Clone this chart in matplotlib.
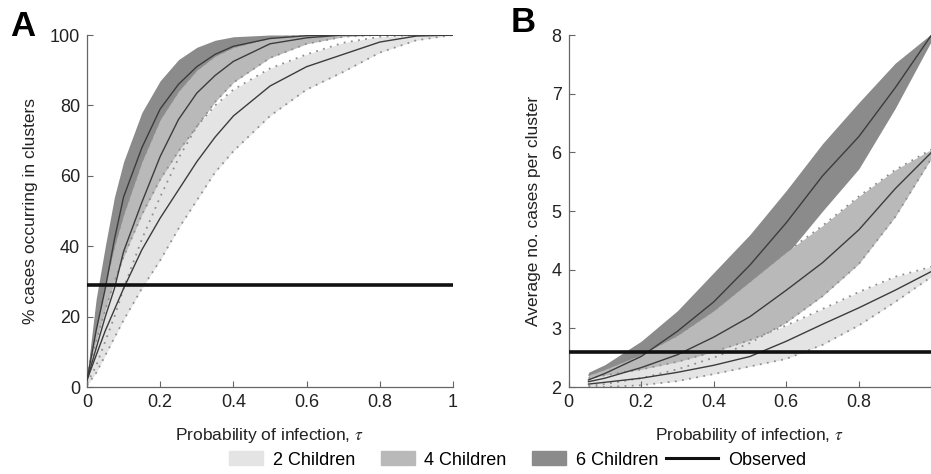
import matplotlib
matplotlib.use("Agg")
import matplotlib.pyplot as plt
from matplotlib.patches import Patch, Rectangle
from matplotlib.lines import Line2D
from matplotlib.legend_handler import HandlerPatch

plt.rcParams['font.family'] = ['Liberation Sans', 'DejaVu Sans']
plt.rcParams['mathtext.fontset'] = 'stix'

# ---- panel A: % cases occurring in clusters ----
tau_a = [0, 0.025, 0.05, 0.075, 0.1, 0.15, 0.2, 0.25, 0.3, 0.35, 0.4, 0.5, 0.6, 0.7, 0.8, 0.9, 1.0]

a2_mean = [2, 9, 16, 22, 28, 39, 48, 56, 64, 71, 77, 85.5, 91, 94.5, 98, 99.7, 100]
a2_up   = [3, 13, 22, 30, 37, 49, 59, 67, 74, 80, 84.5, 90.5, 94.5, 97.8, 99.5, 100, 100]
a2_lo   = [0.5, 4, 9, 14, 19, 28, 36, 45, 53, 61, 67, 77, 84.5, 89.5, 95, 98.5, 100]

a4_mean = [2, 11, 20, 28, 38.5, 52.5, 65.5, 76, 83.5, 88.5, 92.5, 97.5, 99.2, 100, 100, 100, 100]
a4_up   = [3, 17, 29, 40, 49, 64, 76, 84, 90, 94, 96.5, 99.2, 100, 100, 100, 100, 100]
a4_lo   = [1, 6, 13, 20, 28, 42, 54, 65, 74, 81, 86.5, 93.5, 97.5, 99.5, 100, 100, 100]

a6_mean = [2, 16, 28, 42, 54, 68, 79, 86, 91, 94.5, 96.8, 99, 99.8, 100, 100, 100, 100]
a6_up   = [3, 25, 40, 54, 64, 78, 87, 93, 96.5, 98.5, 99.5, 100, 100, 100, 100, 100, 100]
a6_lo   = [1, 9, 19, 30, 41, 57, 69, 78, 85, 90, 93.5, 97.5, 99.3, 100, 100, 100, 100]

observed_a = 29

# ---- panel B: average no. cases per cluster ----
tau_b = [0.055, 0.1, 0.2, 0.3, 0.4, 0.5, 0.6, 0.7, 0.8, 0.9, 1.0]

b2_mean = [2.05, 2.08, 2.15, 2.25, 2.37, 2.52, 2.78, 3.07, 3.35, 3.65, 3.97]
b2_up   = [2.15, 2.2, 2.3, 2.43, 2.6, 2.8, 3.05, 3.33, 3.62, 3.88, 4.05]
b2_lo   = [2.0, 2.0, 2.03, 2.1, 2.22, 2.35, 2.48, 2.72, 3.05, 3.45, 3.88]

b4_mean = [2.09, 2.15, 2.33, 2.55, 2.85, 3.2, 3.65, 4.12, 4.68, 5.38, 6.0]
b4_up   = [2.2, 2.3, 2.55, 2.88, 3.3, 3.8, 4.3, 4.75, 5.25, 5.7, 6.05]
b4_lo   = [2.02, 2.05, 2.15, 2.3, 2.5, 2.75, 3.1, 3.55, 4.1, 4.9, 5.9]

b6_mean = [2.12, 2.23, 2.52, 2.95, 3.45, 4.08, 4.8, 5.6, 6.27, 7.1, 8.0]
b6_up   = [2.25, 2.38, 2.78, 3.3, 3.95, 4.6, 5.35, 6.15, 6.85, 7.52, 8.02]
b6_lo   = [2.0, 2.08, 2.3, 2.62, 3.0, 3.58, 4.25, 5.0, 5.72, 6.75, 7.9]

observed_b = 2.6

labels = ['2 Children', '4 Children', '6 Children', 'Observed']
c_light, c_mid, c_dark = '#e4e4e4', '#b9b9b9', '#8b8b8b'
dot_col = '#8f8f8f'
mean_col = '#3c3c3c'

fig = plt.figure(figsize=(9.31, 4.74), dpi=100)
axA = fig.add_axes([87 / 931, 87 / 474, 366 / 931, 352 / 474])
axB = fig.add_axes([568.5 / 931, 87 / 474, 363 / 931, 352 / 474])


def draw_panel(ax, t, bands, obs):
    # bands: list of (lo, up, mean, color, dotted)
    for lo, up, mean, col, dotted in bands:
        ax.fill_between(t, lo, up, color=col, lw=0, zorder=1)
    for lo, up, mean, col, dotted in bands:
        if dotted:
            ax.plot(t, lo, color=dot_col, lw=1.3, ls=(0, (1, 3)), zorder=2)
            ax.plot(t, up, color=dot_col, lw=1.3, ls=(0, (1, 3)), zorder=2)
        ax.plot(t, mean, color=mean_col, lw=1.0, zorder=3)
    ax.axhline(obs, color='#111111', lw=2.6, zorder=4)
    for s in ['top', 'right']:
        ax.spines[s].set_visible(False)
    for s in ['left', 'bottom']:
        ax.spines[s].set_color('#666666')
        ax.spines[s].set_linewidth(0.9)
    ax.tick_params(direction='in', length=4, width=0.8, colors='#666666',
                   labelcolor='#222222', labelsize=13, pad=5)


draw_panel(axA, tau_a,
           [(a6_lo, a6_up, a6_mean, c_dark, False),
            (a4_lo, a4_up, a4_mean, c_mid, True),
            (a2_lo, a2_up, a2_mean, c_light, True)], observed_a)
axA.set_xlim(0, 1)
axA.set_ylim(0, 100)
axA.set_xticks([0, 0.2, 0.4, 0.6, 0.8, 1])
axA.set_xticklabels(['0', '0.2', '0.4', '0.6', '0.8', '1'])
axA.set_yticks([0, 20, 40, 60, 80, 100])
axA.set_xlabel(r'Probability of infection, $\tau$', fontsize=12.5, color='#222222')
axA.set_ylabel('% cases occurring in clusters', fontsize=12.5, color='#222222')
axA.xaxis.set_label_coords(0.5, -0.11)
axA.yaxis.set_label_coords(-0.135, 0.5)

draw_panel(axB, tau_b,
           [(b6_lo, b6_up, b6_mean, c_dark, False),
            (b4_lo, b4_up, b4_mean, c_mid, True),
            (b2_lo, b2_up, b2_mean, c_light, True)], observed_b)
axB.set_xlim(0, 1)
axB.set_ylim(2, 8)
axB.set_xticks([0, 0.2, 0.4, 0.6, 0.8, 1])
axB.set_xticklabels(['0', '0.2', '0.4', '0.6', '0.8', ''])
axB.set_yticks([2, 3, 4, 5, 6, 7, 8])
axB.set_xlabel(r'Probability of infection, $\tau$', fontsize=12.5, color='#222222')
axB.set_ylabel('Average no. cases per cluster', fontsize=12.5, color='#222222')
axB.xaxis.set_label_coords(0.5, -0.11)
axB.yaxis.set_label_coords(-0.075, 0.5)

fig.text(10 / 931, 1 - 27 / 474, 'A', fontsize=25, fontweight='heavy', va='center', ha='left')
fig.text(511 / 931, 1 - 22 / 474, 'B', fontsize=25, fontweight='heavy', va='center', ha='left')


# narrower boxes for the patch entries, right-aligned in the handle box
def narrow_patch(legend, orig_handle, xdescent, ydescent, width, height, fontsize):
    w = 24.5
    return Rectangle((-xdescent + width - w, -ydescent), w, height)


handles = [Patch(color=c_light), Patch(color=c_mid), Patch(color=c_dark),
           Line2D([], [], color='#111111', lw=2.2)]
fig.legend(handles, labels, loc='center', bbox_to_anchor=(0.546, 0.03), ncol=4,
           frameon=False, fontsize=13, handlelength=2.9, handleheight=0.85,
           handletextpad=0.55, columnspacing=0.4,
           handler_map={Patch: HandlerPatch(patch_func=narrow_patch)})

fig.savefig('out.png', dpi=100, facecolor='white')
